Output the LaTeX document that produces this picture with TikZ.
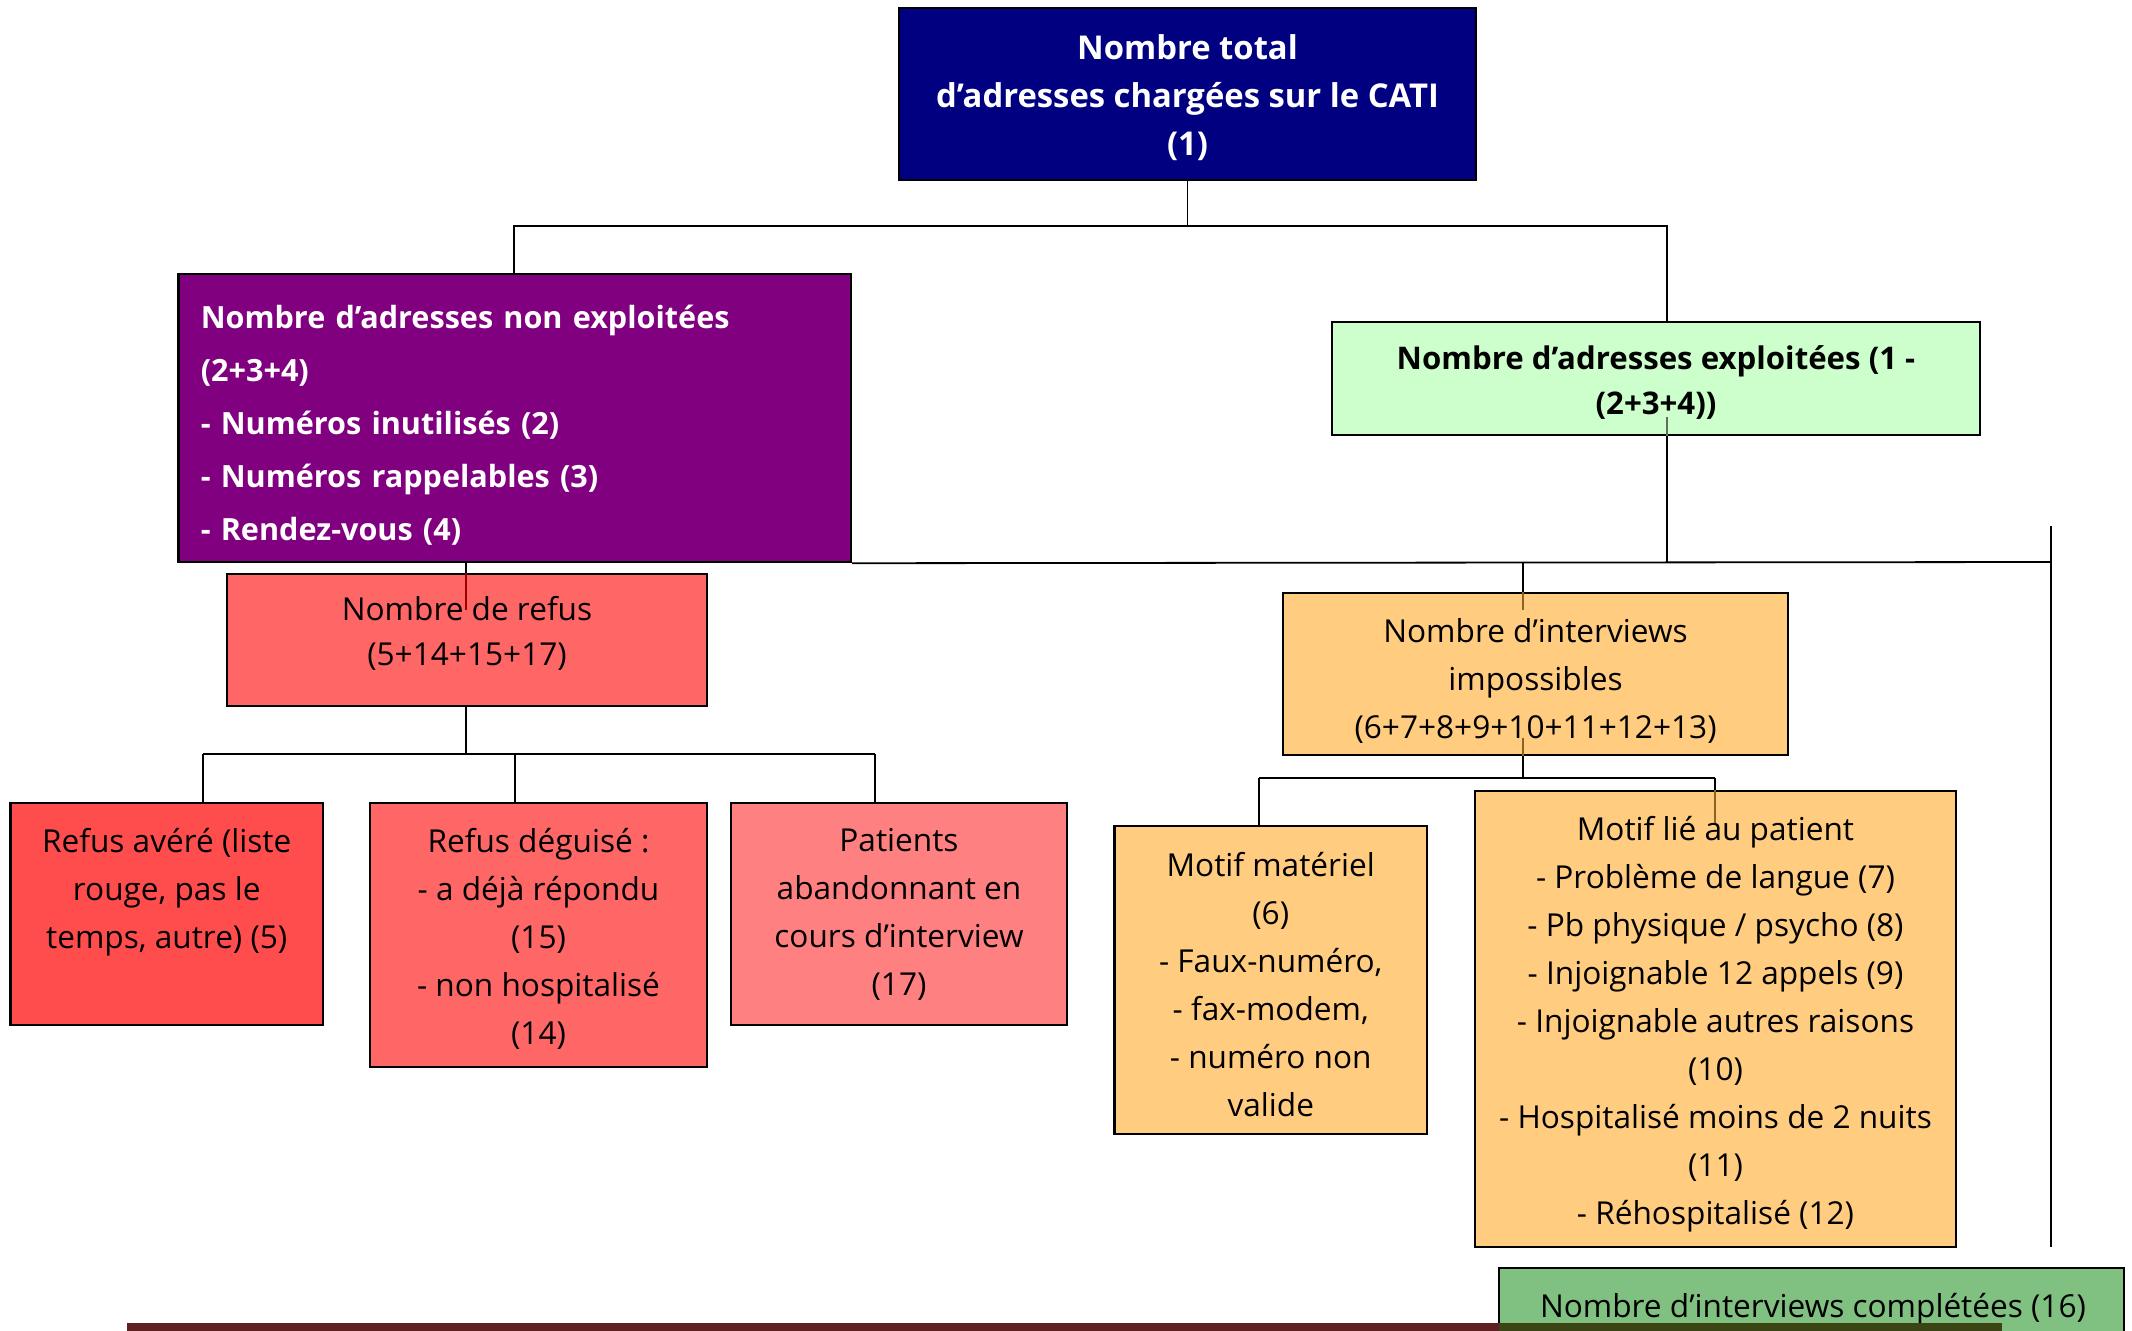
\documentclass[tikz,border=0pt]{standalone}
\usepackage{fontspec}
\setmainfont{Open Sans}
\usetikzlibrary{calc}
\definecolor{navyc}{HTML}{000080}
\definecolor{purplec}{HTML}{800080}
\definecolor{lgreenc}{HTML}{CCFFCC}
\definecolor{refusc}{HTML}{FF6666}
\definecolor{averec}{HTML}{FF4D4D}
\definecolor{patc}{HTML}{FF8080}
\definecolor{orangec}{HTML}{FFCC80}
\definecolor{donec}{HTML}{80C080}
\definecolor{barred}{HTML}{5E2020}
\definecolor{barolive}{HTML}{3B4513}
\definecolor{innerred}{HTML}{990000}
\definecolor{innerbrown}{HTML}{8A6420}
\definecolor{innergray}{HTML}{607060}
\newcommand\regfont{\fontsize{15.8}{24}\selectfont}
\newcommand\regtight{\fontsize{15.8}{22.5}\selectfont}
\newcommand\boldtop{\fontsize{16.4}{24}\selectfont\bfseries}
\newcommand\boldtight{\fontsize{15.6}{22.5}\selectfont\bfseries}
\newcommand\purfont{\fontsize{15.3}{26.5}\selectfont\bfseries}
\begin{document}
\begin{tikzpicture}[x=0.5pt,y=-0.5pt,
  box/.style={draw=black, line width=1.2pt, inner sep=0pt},
  txt/.style={inner sep=0pt, align=center, font=\regfont},
  conn/.style={line width=0.9pt, black},
  innerr/.style={line width=0.9pt, innerred},
  innero/.style={line width=0.9pt, innerbrown},
  innerg/.style={line width=0.9pt, innergray}]
\useasboundingbox (0,0) rectangle (2132,1330);
\clip (0,0) rectangle (2132,1330);

% boxes
\node[box, fill=navyc, minimum width=288.5pt, minimum height=86pt] (total) at (1187.5,94) {};
\node[txt, text=white, font=\boldtop] (totalT) at ($(total.center)+(0,4)$)
  {Nombre total\\d’adresses chargées sur le CATI\\(1)};

\node[box, fill=purplec, minimum width=336.25pt, minimum height=144pt] (nonex) at (514.75,418) {};
\node[txt, text=white, font=\purfont, align=left, text width=314pt] (nonexT) at ($(nonex.center)+(0,7)$)
  {Nombre d’adresses non exploitées\\(2+3+4)\\- Numéros inutilisés (2)\\- Numéros rappelables (3)\\- Rendez-vous (4)};

\node[box, fill=lgreenc, minimum width=324pt, minimum height=56.5pt] (expl) at (1656,378.5) {};
\node[txt, font=\boldtight] (explT) at ($(expl.center)+(0,4)$)
  {Nombre d’adresses exploitées (1 -\\(2+3+4))};

\node[box, fill=refusc, minimum width=240pt, minimum height=66pt] (refus) at (467,640) {};
\node[txt, font=\regtight] (refusT) at ($(refus.center)+(0,-7)$)
  {Nombre de refus\\(5+14+15+17)};

\node[box, fill=averec, minimum width=156.25pt, minimum height=111pt] (avere) at (166.75,914) {};
\node[txt, anchor=north] (avereT) at ($(avere.north)+(0,26)$)
  {Refus avéré (liste\\rouge, pas le\\temps, autre) (5)};

\node[box, fill=refusc, minimum width=168.5pt, minimum height=132pt] (deg) at (538.5,935) {};
\node[txt] (degT) at ($(deg.center)+(0,4)$)
  {Refus déguisé :\\- a déjà répondu\\(15)\\- non hospitalisé\\(14)};

\node[box, fill=patc, minimum width=168pt, minimum height=111pt] (pat) at (899,914) {};
\node[txt] (patT) at (pat.center)
  {Patients\\abandonnant en\\cours d’interview\\(17)};

\node[box, fill=orangec, minimum width=252.5pt, minimum height=81pt] (imp) at (1535.5,674) {};
\node[txt] (impT) at ($(imp.center)+(0,7)$)
  {Nombre d’interviews\\impossibles\\(6+7+8+9+10+11+12+13)};

\node[box, fill=orangec, minimum width=156.25pt, minimum height=154pt] (mat) at (1270.75,980) {};
\node[txt] (matT) at ($(mat.center)+(0,5)$)
  {Motif matériel\\(6)\\- Faux-numéro,\\- fax-modem,\\- numéro non\\valide};

\node[box, fill=orangec, minimum width=240.5pt, minimum height=228pt] (lie) at (1715.5,1019) {};
\node[txt] (lieT) at ($(lie.center)+(0,5)$)
  {Motif lié au patient\\- Problème de langue (7)\\- Pb physique / psycho (8)\\- Injoignable 12 appels (9)\\- Injoignable autres raisons\\(10)\\- Hospitalisé moins de 2 nuits\\(11)\\- Réhospitalisé (12)};

\node[box, fill=donec, minimum width=312.5pt, minimum height=62pt] (done) at (1811.5,1330) {};
\node[txt, anchor=base] (doneT) at (1813,1317) {Nombre d’interviews complétées (16)};

% bottom bar
\fill[barred] (127,1323) rectangle (1499,1332);
\fill[barolive] (1499,1323) rectangle (2002,1332);

% bus coordinates
\coordinate (b1L) at (514,226);
\coordinate (b1R) at (1667,226);
\coordinate (b2g) at (1667,562);
\coordinate (b2R) at (2051,562);
\coordinate (vtop) at (2051,526);
\coordinate (vbot) at (2051,1247);
\coordinate (ix) at (1523,562);
\coordinate (rx) at (466,562);
\coordinate (r1) at (203,754);
\coordinate (r2) at (515,754);
\coordinate (r3) at (875,754);
\coordinate (m1) at (1259,778);
\coordinate (m2) at (1715,778);

% connectors
\draw[conn] (total.south) -- (total.south |- b1L);
\draw[conn] (nonex.north -| b1L) -- (b1L) -- (b1R) -- (expl.north -| b1R);
\draw[conn] (expl.south -| b2g) -- (b2g);
\draw[innerg] (1667,417) -- (expl.south -| b2g);
\draw[conn] (nonex.south east) -- (b2R);
\draw[conn] (vtop) -- (vbot);
\draw[conn] (ix) -- (imp.north -| ix);
\draw[innero] (imp.north -| ix) -- (1523,610);
\draw[conn] (rx) -- (refus.north -| rx);
\draw[innerr] (refus.north -| rx) -- (466,610);
\draw[conn] (refus.south -| rx) -- (rx |- r1);
\draw[conn] (r1) -- (r3);
\draw[conn] (r1) -- (avere.north -| r1);
\draw[conn] (r2) -- (deg.north -| r2);
\draw[conn] (r3) -- (pat.north -| r3);
\draw[conn] (imp.south -| ix) -- (ix |- m1);
\draw[innero] (1523,738) -- (imp.south -| ix);
\draw[conn] (m1) -- (m2);
\draw[conn] (m1) -- (mat.north -| m1);
\draw[conn] (m2) -- (lie.north -| m2);
\draw[innero] (lie.north -| m2) -- (1715,823);
\end{tikzpicture}
\end{document}
